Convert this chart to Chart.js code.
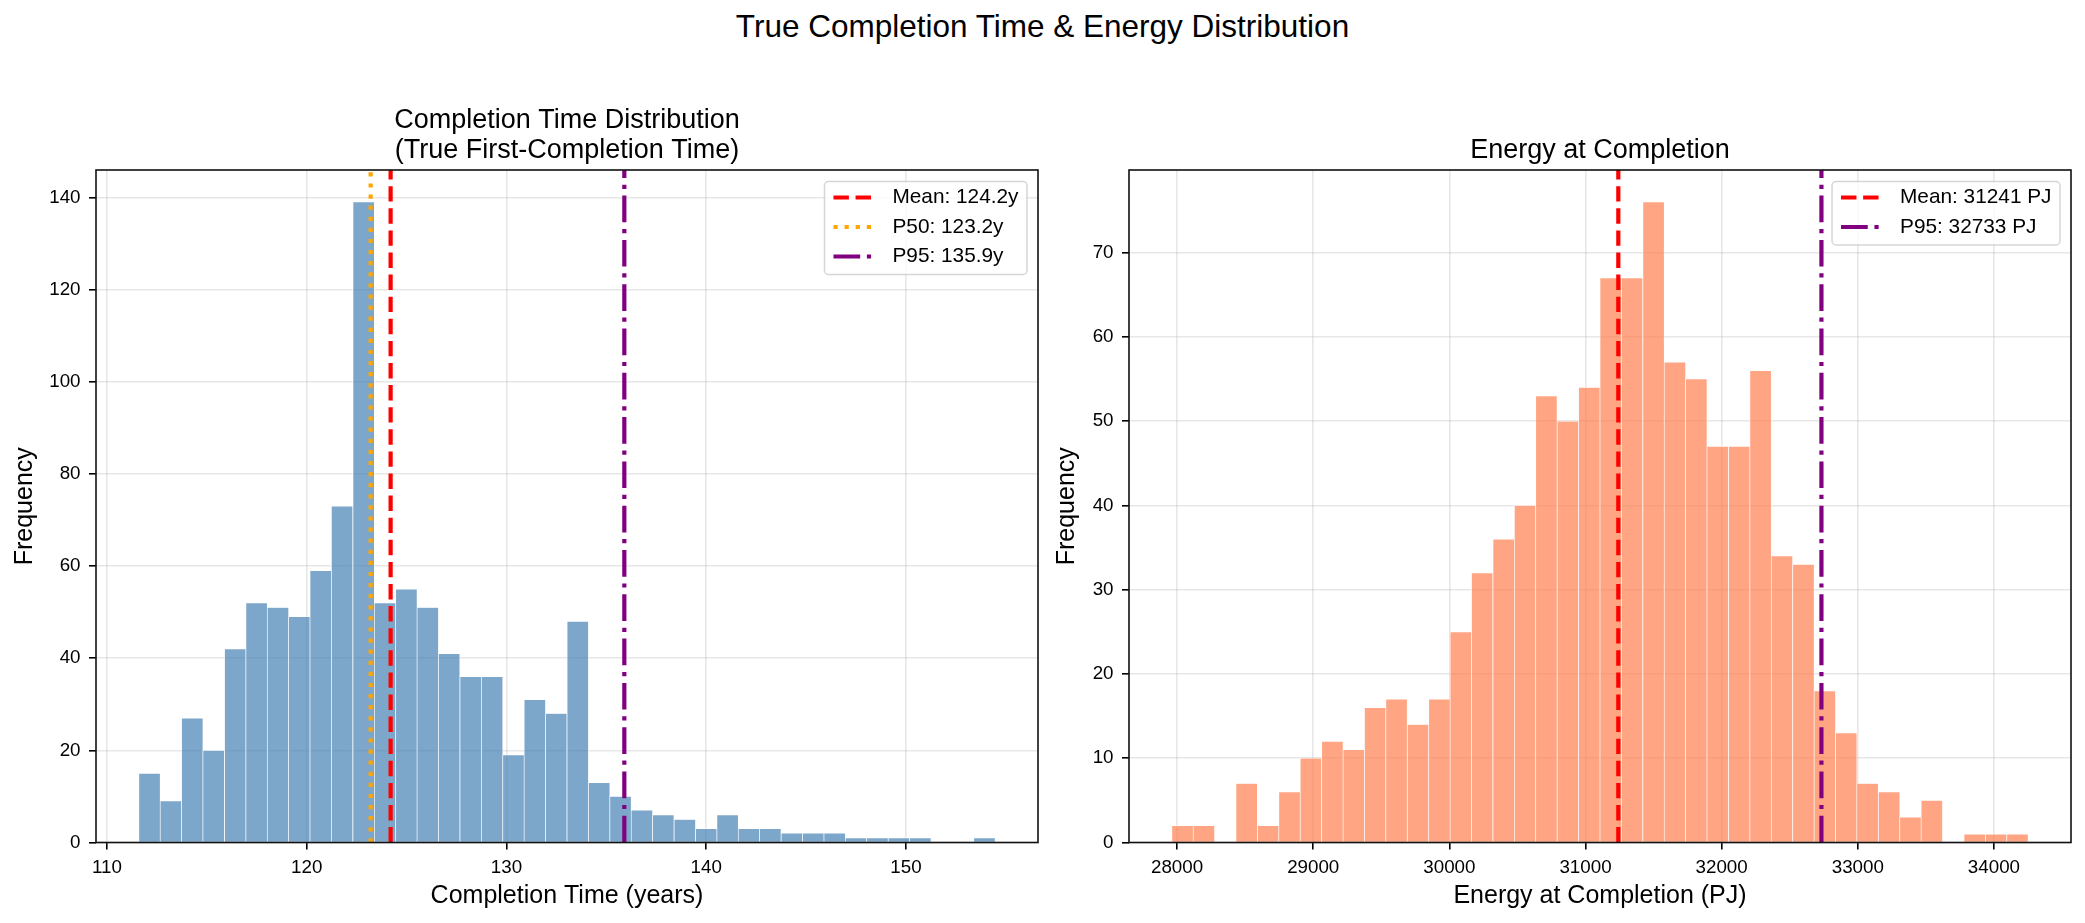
<!DOCTYPE html>
<html><head><meta charset="utf-8">
<script src="https://cdn.jsdelivr.net/npm/chart.js@4.4.1/dist/chart.umd.min.js"></script>
<style>
html,body{margin:0;padding:0;background:#fff;width:2085px;height:923px;overflow:hidden;position:relative}
#suptitle{position:absolute;left:0;top:10.5px;width:2085px;text-align:center;font-family:'Liberation Sans',Arial,sans-serif;font-size:31.5px;line-height:31.5px;color:#000;white-space:nowrap}
canvas{position:absolute;top:0}
#c1{left:0}
#c2{left:1045px}
</style></head><body>
<div id="suptitle">True Completion Time &amp; Energy Distribution</div>
<canvas id="c1" width="1045" height="923" style="width:1045px;height:923px"></canvas>
<canvas id="c2" width="1040" height="923" style="width:1040px;height:923px"></canvas>
<script>
// ---------- DATA ----------
const timeBinCenters = [112.13, 113.20, 114.27, 115.34, 116.42, 117.49, 118.56, 119.63, 120.70, 121.77,
  122.85, 123.92, 124.99, 126.06, 127.13, 128.21, 129.28, 130.35, 131.42, 132.49,
  133.57, 134.64, 135.71, 136.78, 137.85, 138.93, 140.00, 141.07, 142.14, 143.21,
  144.29, 145.36, 146.43, 147.50, 148.57, 149.65, 150.72, 151.79, 152.86, 153.93];
const timeCounts = [15, 9, 27, 20, 42, 52, 51, 49, 59, 73,
  139, 52, 55, 51, 41, 36, 36, 19, 31, 28,
  48, 13, 10, 7, 6, 5, 3, 6, 3, 3,
  2, 2, 2, 1, 1, 1, 1, 0, 0, 1];
const timeBinWidth = 1.072;
const timeMean = 124.2, timeP50 = 123.2, timeP95 = 135.9;
const timeXTicks = [110, 120, 130, 140, 150];
const timeYTicks = [0, 20, 40, 60, 80, 100, 120, 140];

const energyBinCenters = [28040, 28197, 28354, 28511, 28669, 28826, 28983, 29141, 29298, 29455,
  29612, 29770, 29927, 30084, 30241, 30399, 30556, 30713, 30871, 31028,
  31185, 31342, 31500, 31657, 31814, 31971, 32129, 32286, 32443, 32601,
  32758, 32915, 33072, 33230, 33387, 33544, 33701, 33859, 34016, 34173];
const energyCounts = [2, 2, 0, 7, 2, 6, 10, 12, 11, 16,
  17, 14, 17, 25, 32, 36, 40, 53, 50, 54,
  67, 67, 76, 57, 55, 47, 47, 56, 34, 33,
  18, 13, 7, 6, 3, 5, 0, 1, 1, 1];
const energyBinWidth = 157.3;
const energyMean = 31241, energyP95 = 32733;
const energyXTicks = [28000, 29000, 30000, 31000, 32000, 33000, 34000];
const energyYTicks = [0, 10, 20, 30, 40, 50, 60, 70];

// ---------- STYLE ----------
const FONT = "'Liberation Sans', Arial, sans-serif";
Chart.defaults.font.family = FONT;
Chart.defaults.color = '#000';
const DASHED = [15.4, 6.7], DOTTED = [4.2, 6.9], DASHDOT = [26.7, 6.7, 4.2, 6.7];
const LW = 4.2;

const mplDecor = {
  id: 'mplDecor',
  afterDatasetsDraw(chart) {
    const {ctx, chartArea: a} = chart;
    ctx.save();
    ctx.strokeStyle = '#111';
    ctx.lineWidth = 1.6;
    ctx.setLineDash([]);
    ctx.strokeRect(a.left, a.top, a.right - a.left, a.bottom - a.top);
    // legend (upper right, matplotlib style)
    const items = chart.data.datasets.filter(d => d.type === 'line');
    ctx.font = '20.8px ' + FONT;
    const maxW = Math.max(...items.map(d => ctx.measureText(d.label).width));
    const fw = 68 + maxW + 8.5;
    const rowH = 29.5;
    const fh = 16 + (items.length - 1) * rowH + 18;
    const fx = a.right - 11 - fw, fy = a.top + 11.5;
    ctx.beginPath();
    ctx.roundRect(fx, fy, fw, fh, 4);
    ctx.fillStyle = 'rgba(255,255,255,0.8)';
    ctx.fill();
    ctx.strokeStyle = 'rgba(204,204,204,0.8)';
    ctx.lineWidth = 1.5;
    ctx.stroke();
    items.forEach((d, i) => {
      const y = fy + 16 + i * rowH;
      ctx.beginPath();
      ctx.setLineDash(d.borderDash || []);
      ctx.lineDashOffset = 0;
      ctx.lineCap = 'butt';
      ctx.strokeStyle = d.borderColor;
      ctx.lineWidth = d.borderWidth;
      ctx.moveTo(fx + 9, y);
      ctx.lineTo(fx + 47, y);
      ctx.stroke();
      ctx.setLineDash([]);
      ctx.fillStyle = '#000';
      ctx.textBaseline = 'middle';
      ctx.textAlign = 'left';
      ctx.fillText(d.label, fx + 68, y);
    });
    ctx.restore();
  }
};

function vline(x, yMax, label, color, dash) {
  return {
    type: 'line', label, data: [{x, y: 0}, {x, y: yMax}],
    borderColor: color, borderWidth: LW, borderDash: dash, borderCapStyle: 'butt',
    pointRadius: 0, fill: false, tension: 0, order: 0
  };
}

function makeChart(id, o) {
  const lo = o.centers[0] - o.binWidth / 2;
  const hi = o.centers[o.centers.length - 1] + o.binWidth / 2;
  const xMin = lo - 0.05 * (hi - lo), xMax = hi + 0.05 * (hi - lo);
  const yMax = Math.max(...o.counts) * 1.05;
  const datasets = [{
    type: 'bar', label: 'hist',
    data: o.centers.map((c, i) => ({x: c, y: o.counts[i]})),
    backgroundColor: o.color, borderColor: 'rgba(255,255,255,0.9)',
    borderWidth: {left: 0.65, right: 0.65, top: 0.65, bottom: 0},
    barPercentage: 1, categoryPercentage: 1, order: 1
  }].concat(o.lines.map(l => vline(l.x, yMax, l.label, l.color, l.dash)));
  return new Chart(document.getElementById(id), {
    type: 'bar',
    data: {datasets},
    plugins: [mplDecor],
    options: {
      responsive: false, animation: false, events: [],
      layout: {padding: o.padding},
      plugins: {
        legend: {display: false}, tooltip: {enabled: false},
        title: {
          display: true, text: o.title, fullSize: false,
          font: {size: 27, weight: 'normal', lineHeight: 30 / 27},
          padding: {top: 0, bottom: 4.9}, color: '#000'
        }
      },
      scales: {
        x: {
          type: 'linear', min: xMin, max: xMax, offset: false,
          afterFit: s => { s.height = 80.5; },
          afterBuildTicks: s => { s.ticks = o.xTicks.map(v => ({value: v})); },
          grid: {offset: false, color: 'rgba(176,176,176,0.3)', lineWidth: 1.6,
                 drawTicks: true, tickLength: 7, tickColor: '#000', tickWidth: 1.6},
          border: {display: false},
          ticks: {font: {size: 18.75}, padding: 7.5, maxRotation: 0, autoSkip: false,
                  callback: v => String(v)},
          title: {display: true, text: o.xLabel, font: {size: 25, lineHeight: 1.2},
                  padding: {top: 0, bottom: 11.8}}
        },
        y: {
          type: 'linear', min: 0, max: yMax,
          afterFit: s => { s.width = o.yAxisWidth; },
          afterBuildTicks: s => { s.ticks = o.yTicks.map(v => ({value: v})); },
          grid: {color: 'rgba(176,176,176,0.3)', lineWidth: 1.6,
                 drawTicks: true, tickLength: 7, tickColor: '#000', tickWidth: 1.6},
          border: {display: false},
          ticks: {font: {size: 18.75}, padding: 8.5, callback: v => String(v)},
          title: {display: true, text: 'Frequency', font: {size: 25, lineHeight: 1.2},
                  padding: {top: o.yTitlePad, bottom: 0}}
        }
      }
    }
  });
}

makeChart('c1', {
  centers: timeBinCenters, counts: timeCounts, binWidth: timeBinWidth,
  color: 'rgba(70,130,180,0.7)',
  title: ['Completion Time Distribution', '(True First-Completion Time)'],
  xLabel: 'Completion Time (years)', xTicks: timeXTicks, yTicks: timeYTicks,
  padding: {top: 105.1, left: 0, right: 7, bottom: 0},
  yAxisWidth: 96, yTitlePad: 10,
  lines: [
    {x: timeMean, label: 'Mean: 124.2y', color: '#ff0000', dash: DASHED},
    {x: timeP50, label: 'P50: 123.2y', color: '#ffa500', dash: DOTTED},
    {x: timeP95, label: 'P95: 135.9y', color: '#800080', dash: DASHDOT}
  ]
});

makeChart('c2', {
  centers: energyBinCenters, counts: energyCounts, binWidth: energyBinWidth,
  color: 'rgba(255,127,80,0.7)',
  title: 'Energy at Completion',
  xLabel: 'Energy at Completion (PJ)', xTicks: energyXTicks, yTicks: energyYTicks,
  padding: {top: 135.1, left: 0, right: 14, bottom: 0},
  yAxisWidth: 84, yTitlePad: 7,
  lines: [
    {x: energyMean, label: 'Mean: 31241 PJ', color: '#ff0000', dash: DASHED},
    {x: energyP95, label: 'P95: 32733 PJ', color: '#800080', dash: DASHDOT}
  ]
});
</script>
</body></html>
